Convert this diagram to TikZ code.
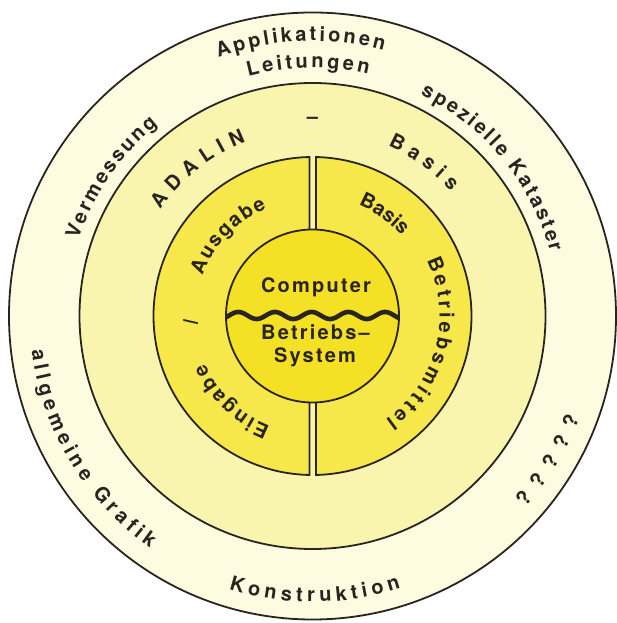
\documentclass[tikz,border=0pt]{standalone}
\usepackage{fontspec}
\setmainfont{TeX Gyre Heros}
\newfontfamily\corefont[LetterSpace=11]{TeX Gyre Heros}
\usetikzlibrary{decorations.text}
\definecolor{ringA}{HTML}{FDFCE0}
\definecolor{ringB}{HTML}{FAF5AE}
\definecolor{ringC}{HTML}{F6E74A}
\definecolor{core}{HTML}{F4E126}
\definecolor{ink}{HTML}{2A2420}
\newcommand\ringfont{\bfseries\fontsize{20bp}{23bp}\selectfont}
\tikzset{
  ringline/.style={draw=ink, line width=1.8bp},
  arctext/.style={decorate, decoration={text along path, text align=fit to path, text color=ink, text={|\ringfont|#1}}},
  coretext/.style={text=ink, font=\corefont\bfseries\fontsize{20bp}{23bp}\selectfont, inner sep=0pt, anchor=base},
  marktext/.style={text=ink, font=\ringfont, inner sep=0pt}
}
\begin{document}
\begin{tikzpicture}[x=1bp,y=1bp]
\useasboundingbox (-312.5,-307) rectangle (304.5,316);
\fill[white] (-312.5,-307) rectangle (304.5,316);
% rings
\path[ringline, fill=ringA] (0,0) circle[radius=303.5];
\path[ringline, fill=ringB] (0,0) circle[radius=233];
\path[ringline, fill=ringC] (91.08:159) arc[start angle=91.08, end angle=268.92, radius=159] -- cycle;
\path[ringline, fill=ringC] (88.74:159) arc[start angle=88.74, end angle=-88.74, radius=159] -- cycle;
\path[ringline, fill=core] (0,0) circle[radius=86.5];
\begin{scope}
  \clip (0,0) circle[radius=86.5];
  \draw[ink, line width=4.6bp, line cap=round] plot[domain=-88:88, samples=150, smooth] (\x, {0.5+3.5*cos(9.8093*(\x+37.5))});
\end{scope}
% outer ring texts
\path[arctext=Applikationen] (110:275) arc[start angle=110, end angle=75, radius=275];
\path[arctext=Leitungen] (105:248) arc[start angle=105, end angle=77, radius=248];
\path[arctext=spezielle Kataster] (64:246) arc[start angle=64, end angle=15, radius=246];
\path[arctext=Vermessung] (162:246) arc[start angle=162, end angle=129, radius=246];
\path[arctext=allgemeine Grafik] (187:283) arc[start angle=187, end angle=235, radius=283];
\path[arctext=Konstruktion] (253:286) arc[start angle=253, end angle=288, radius=286];
\path[arctext=?????] (318:286) arc[start angle=318, end angle=339, radius=286];
% middle ring texts
\path[arctext=ADALIN] (145:186) arc[start angle=145, end angle=111, radius=186];
\node[marktext] (dash) at (0,196) {–};
\path[arctext=Basis] (66:186) arc[start angle=66, end angle=42, radius=186];
% inner ring texts
\path[arctext=Eingabe] (249:118) arc[start angle=249, end angle=204, radius=118];
\node[marktext, rotate=93] (slash) at (183:122) {/};
\path[arctext=Ausgabe] (160:117) arc[start angle=160, end angle=113, radius=117];
\path[arctext=Basis] (67.5:120) arc[start angle=67.5, end angle=42.5, radius=120];
\path[arctext=Betriebsmittel] (26:127) arc[start angle=26, end angle=-55, radius=127];
% core texts
\node[coretext] (computer) at (3.5,23) {Computer};
\node[coretext] (betriebs) at (3,-24) {Betriebs–};
\node[coretext] (system) at (2.5,-47) {System};
\end{tikzpicture}
\end{document}
